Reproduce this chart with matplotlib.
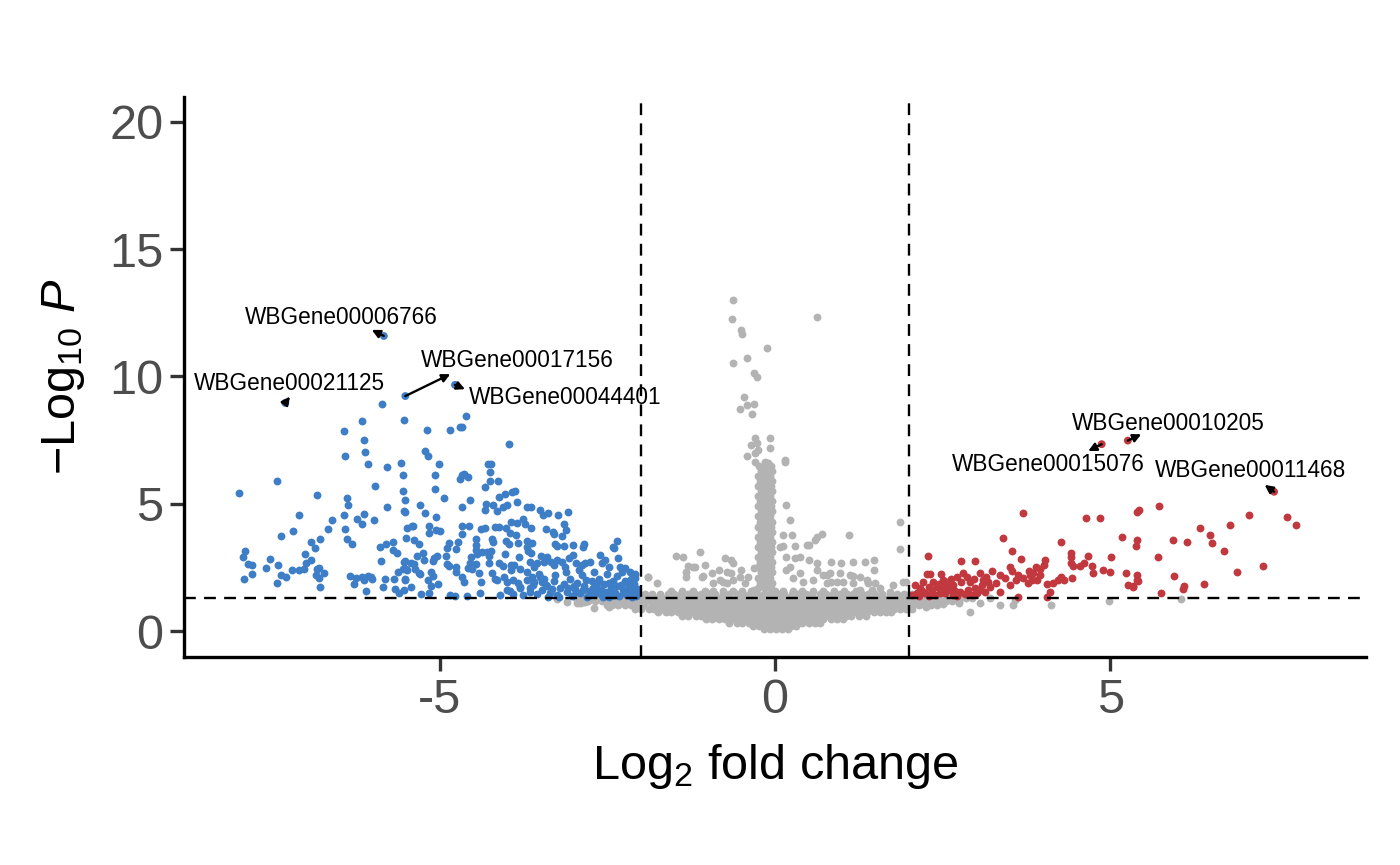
import matplotlib
matplotlib.use("Agg")
import matplotlib.pyplot as plt

plt.rcParams['font.family'] = ['Liberation Sans', 'DejaVu Sans']
plt.rcParams['mathtext.fontset'] = 'custom'
plt.rcParams['mathtext.rm'] = 'Liberation Sans'
plt.rcParams['mathtext.it'] = 'Liberation Sans:italic'

# ---------------- data (log2 fold change, -log10 P) ----------------
down_pts = [
    (-7.99,5.43),(-7.43,5.91),(-6.83,5.36),(-6.42,7.87),(-6.41,6.86),(-6.16,8.25),(-6.13,7.49),(-6.11,7.02),
    (-6.07,6.57),(-5.53,8.29),(-5.57,6.60),(-5.55,6.13),(-5.54,5.50),(-5.51,5.16),(-5.53,4.73),(-5.52,4.66),
    (-5.79,6.43),(-5.96,5.71),(-5.79,4.88),(-5.97,4.37),(-6.13,4.58),(-6.16,4.19),(-6.23,4.40),(-6.38,5.21),
    (-6.37,4.94),(-6.42,4.56),(-6.41,4.01),(-6.38,3.60),(-6.31,3.42),(-6.61,4.35),(-6.67,4.01),(-6.78,3.61),
    (-6.92,3.51),(-6.86,3.26),(-7.00,3.04),(-6.91,2.78),(-6.99,2.66),(-7.02,2.44),(-7.09,4.55),(-7.19,3.94),
    (-7.36,3.72),(-7.52,2.84),(-7.58,2.48),(-7.41,2.61),(-7.37,2.21),(-7.29,2.13),(-7.42,1.89),(-7.20,2.38),
    (-7.10,2.40),(-7.90,3.13),(-7.93,2.92),(-7.85,2.63),(-7.79,2.59),(-7.79,2.25),(-7.92,2.03),(-6.82,2.42),
    (-6.79,2.46),(-6.84,2.20),(-6.80,2.07),(-6.72,2.29),(-6.78,1.74),(-6.34,2.15),(-6.27,1.86),(-6.24,2.08),
    (-6.16,2.13),(-6.12,1.99),(-6.07,2.16),(-6.02,2.13),(-6.01,2.03),(-6.10,1.58),(-5.89,3.30),(-5.80,3.41),
    (-5.87,2.76),(-5.85,1.74),(-5.82,2.03),(-5.69,3.50),(-5.69,3.20),(-5.63,3.08),(-5.62,2.32),(-5.68,2.03),
    (-5.66,1.64),(-5.60,1.48),(-5.53,2.72),(-5.50,2.45),(-5.50,3.64),(-5.49,4.04),(-5.41,4.13),(-5.51,2.03),
    (-5.53,1.61),(-5.42,2.66),(-5.86,8.91),(-4.61,8.44),
    (-5.19,7.91),(-4.85,7.91),(-4.69,8.03),(-4.66,8.03),(-3.96,7.36),(-5.21,7.06),(-5.17,6.89),(-5.01,6.57),
    (-5.07,6.14),(-5.07,5.57),(-4.94,5.21),(-5.29,4.94),(-5.22,4.65),(-5.05,4.49),(-5.16,4.13),(-5.05,3.97),
    (-4.99,3.93),(-5.40,4.14),(-5.38,3.56),(-5.30,3.43),(-5.15,3.84),(-4.66,6.12),(-4.64,6.16),(-4.57,6.05),
    (-4.69,5.96),(-4.55,5.15),(-4.66,4.88),(-4.28,6.57),(-4.24,6.57),(-4.25,6.25),(-4.25,5.88),(-4.13,5.89),
    (-4.32,5.66),(-4.11,5.28),(-4.02,5.38),(-3.92,5.45),(-3.87,5.51),(-3.85,5.08),(-4.31,5.00),(-4.32,4.75),
    (-4.21,4.95),(-4.15,4.72),(-4.06,4.86),(-4.00,4.94),(-3.70,4.88),(-3.64,4.88),(-3.50,4.75),(-3.46,4.56),
    (-3.38,4.64),(-3.23,4.56),(-3.09,4.68),(-4.67,4.13),(-4.56,4.13),(-4.66,3.80),(-4.38,4.02),(-4.32,4.04),
    (-4.18,4.07),(-4.12,4.07),(-4.01,4.04),(-3.94,4.27),(-3.84,4.23),(-3.73,4.19),(-3.76,4.40),(-3.64,4.04),
    (-3.42,4.02),(-3.31,3.87),(-3.29,3.83),(-3.14,4.20),(-3.12,3.98),(-3.17,3.72),(-3.95,3.84),(-3.86,3.78),
    (-4.46,3.63),(-4.45,3.37),(-4.86,3.47),(-4.72,3.50),(-4.89,3.27),(-4.75,3.22),(-4.22,3.63),(-4.20,3.49),
    (-4.01,3.54),(-3.97,3.42),(-3.83,3.46),(-3.69,3.54),(-3.62,3.46),(-3.28,3.43),(-3.25,3.33),(-3.15,3.34),
    (-3.01,3.37),(-2.86,3.31),(-2.84,3.43),(-2.35,3.55),(-2.42,3.31),(-2.40,3.25),(-5.34,2.95),(-5.25,3.05),
    (-5.23,2.79),(-5.52,2.74),(-5.55,2.45),(-5.49,2.41),(-5.38,2.63),(-5.36,2.42),(-5.31,2.29),(-5.29,2.24),
    (-5.10,2.75),(-5.08,2.86),(-5.04,2.96),(-4.91,2.96),(-4.89,2.64),(-4.86,2.54),(-5.13,2.33),(-5.10,2.15),
    (-5.17,1.99),(-5.03,1.83),(-5.13,1.77),(-5.51,2.00),(-5.42,1.74),(-5.16,1.50),(-5.28,1.45),(-4.84,1.41),
    (-4.77,1.38),(-4.59,1.38),(-4.75,2.50),(-4.76,2.33),(-4.66,2.13),(-4.64,1.94),(-4.55,2.66),(-4.57,2.48),
    (-4.51,2.45),(-4.45,2.64),(-4.53,2.92),(-4.46,3.20),(-4.44,3.03),(-4.37,3.12),(-4.29,3.10),(-4.27,2.96),
    (-4.24,3.16),(-4.41,2.28),(-4.38,1.91),(-4.40,1.48),(-4.27,2.68),(-4.22,2.29),(-4.18,2.03),(-4.12,2.66),
    (-4.06,2.55),(-4.03,3.01),(-4.14,2.02),(-4.04,2.13),(-3.94,2.59),(-3.93,2.40),(-3.89,2.61),(-3.82,2.92),
    (-3.80,2.45),(-3.99,1.91),(-3.95,1.58),(-3.91,2.02),(-3.83,1.90),(-3.80,1.70),(-3.69,3.31),(-3.68,3.13),
    (-3.63,3.05),(-3.65,2.72),(-3.59,2.53),(-3.55,2.66),(-3.49,2.94),(-3.45,2.72),(-3.40,2.92),(-3.70,2.32),
    (-3.62,2.12),(-3.59,1.91),(-3.65,1.70),(-3.50,2.13),(-3.47,1.94),(-3.42,1.81),(-3.34,2.72),(-3.29,2.58),
    (-3.25,2.79),(-3.18,2.72),(-3.13,2.53),(-3.07,2.86),(-3.01,2.99),(-2.96,2.68),(-2.88,2.59),(-2.83,2.66),
    (-2.76,2.72),(-2.61,2.99),(-2.58,2.66),(-2.53,2.79),(-2.47,2.53),(-2.34,2.86),(-2.31,2.53),(-2.24,2.46),
    (-2.16,2.33),(-2.09,2.24),
    (-3.55,1.45),(-3.48,1.62),(-3.40,1.75),(-3.35,1.50),(-3.30,1.95),(-3.25,1.40),(-3.20,1.70),(-3.15,1.85),
    (-3.10,1.55),(-3.05,2.05),(-3.02,1.38),(-2.98,1.65),(-2.95,1.90),(-2.90,1.48),(-2.87,2.20),(-2.84,1.75),
    (-2.80,1.35),(-2.77,1.58),(-2.73,1.95),(-2.70,2.30),(-2.68,1.45),(-2.65,1.70),(-2.62,2.05),(-2.58,1.40),
    (-2.55,1.85),(-2.52,1.55),(-2.50,2.25),(-2.47,1.35),(-2.44,1.72),(-2.41,1.98),(-2.38,1.50),(-2.35,2.15),
    (-2.32,1.38),(-2.30,1.80),(-2.27,1.60),(-2.24,1.95),(-2.21,1.42),(-2.18,1.70),(-2.15,2.05),(-2.12,1.52),
    (-2.10,1.85),(-2.07,1.36),(-2.05,1.65),(-3.60,1.80),(-3.45,2.05),(-3.38,1.35),(-3.28,2.20),(-3.12,2.30),
    (-3.00,1.78),(-2.92,2.40),(-2.82,2.00),(-2.75,1.42),(-2.60,1.60),(-2.48,1.90),(-2.40,1.40),(-2.28,2.30),
    (-2.20,1.88),(-2.13,1.35),(-2.08,2.10),(-3.52,2.25),(-3.22,1.32),(-2.97,1.52),(-2.72,1.68),(-2.57,1.34),
    (-2.45,1.58),(-2.36,1.76),(-2.25,1.48),(-2.16,1.62),(-2.06,1.45),(-2.66,1.88),(-2.86,1.62),(-3.08,1.70),
    (-3.33,1.66),(-3.65,1.55),(-3.75,1.40),(-3.80,1.72),(-3.90,1.45),(-4.00,1.62),(-4.10,1.40),(-3.70,2.00),
]

up_pts = [
    (3.70,4.64),(4.64,4.43),(4.85,4.45),(5.39,4.68),(5.42,4.77),(5.73,4.90),(7.07,4.55),(7.64,4.48),
    (7.77,4.15),(6.33,4.06),(6.78,4.15),(6.49,3.77),(6.51,3.47),(6.69,3.14),(5.93,3.58),(6.14,3.49),
    (5.18,3.69),(5.40,3.58),(5.38,3.35),(5.71,2.92),(7.28,2.57),(6.88,2.33),(6.40,1.83),(6.10,1.77),
    (6.08,1.65),(5.95,2.15),(5.76,1.51),(5.23,2.27),(5.40,2.21),(5.40,1.99),(5.26,1.80),(5.34,1.78),
    (5.01,2.90),(4.99,2.33),(4.89,2.40),(4.72,2.57),(4.74,2.27),(4.67,2.95),(4.61,2.66),(4.55,2.57),
    (4.42,3.05),(4.41,2.90),(4.42,2.66),(4.45,2.57),(4.26,3.50),(4.43,2.07),(4.31,2.00),(4.27,2.13),
    (4.22,2.00),(4.15,1.90),(4.03,2.79),(4.01,2.59),(3.95,2.42),(3.89,2.53),(3.85,2.27),(3.83,2.00),
    (3.78,2.37),(3.80,2.20),(3.77,1.87),(3.90,2.00),(3.95,2.20),(4.05,1.85),(4.10,1.54),(4.06,1.35),
    (3.62,1.35),(3.54,3.16),(3.50,2.53),(3.67,2.82),(3.54,2.37),(3.63,2.20),(3.60,2.00),(3.70,2.07),
    (3.40,3.65),(3.35,2.20),(3.43,2.07),(3.30,1.87),(3.35,1.54),(3.50,1.81),(2.98,2.76),(2.77,2.74),
    (2.28,2.95),(2.48,2.25),(3.23,2.36),(3.06,2.27),(3.14,2.13),(3.18,1.94),(3.20,1.74),(3.08,1.81),
    (2.98,1.68),(2.91,1.94),(2.86,2.13),(2.81,2.27),(2.78,1.94),(2.71,2.13),(2.66,1.81),(2.61,1.61),
    (2.56,1.94),(2.51,1.74),(2.46,1.48),(2.41,1.74),(2.36,1.94),(2.34,1.61),(2.29,1.74),(2.24,1.48),
    (2.21,1.94),(2.16,1.68),(2.11,1.48),(2.09,1.81),(2.88,1.61),(3.01,1.48),(3.13,1.54),(2.76,1.54),
    (2.66,1.41),(2.53,1.51),(2.26,2.23),(2.31,2.24),(5.41,1.96),(5.34,1.74),(2.14,1.38),(2.19,1.57),
    (2.39,1.40),(2.44,1.85),(2.58,1.70),(2.68,1.58),(2.72,1.38),(2.83,1.45),(2.94,1.40),(3.05,1.62),
    (2.05,1.40),(2.30,1.36),(2.50,2.02),(2.62,2.05),(2.96,2.05),(3.10,2.00),
]

# non-significant genes: dense band, read row by row (-log10 P level -> fold changes)
ns_band_p = [0.06, 0.18, 0.32, 0.46, 0.60, 0.74, 0.88, 1.02, 1.16, 1.30, 1.44, 1.58]
ns_band_fc = [
    [-0.17,-0.08,0.01,0.11,0.19],
    [-0.33,-0.24,-0.13,-0.05,0.06,0.15,0.24,0.31],
    [-0.68,-0.57,-0.49,-0.38,-0.29,-0.18,-0.1,0.02,0.11,0.2,0.31,0.4,0.5,0.59,0.67],
    [-1.03,-0.94,-0.83,-0.75,-0.64,-0.55,-0.44,-0.36,-0.25,-0.14,-0.06,0.05,0.13,0.24,0.33,0.45,0.53,0.64,
     0.72,0.83,0.92,1.01],
    [-1.38,-1.29,-1.18,-1.1,-0.99,-0.9,-0.79,-0.71,-0.6,-0.5,-0.41,-0.3,-0.21,-0.11,-0.02,0.09,0.17,0.28,
     0.37,0.47,0.56,0.67,0.75,0.86,0.95,1.06,1.14,1.25,1.35],
    [-1.74,-1.63,-1.55,-1.44,-1.35,-1.24,-1.16,-1.05,-0.96,-0.85,-0.77,-0.66,-0.57,-0.46,-0.38,-0.27,-0.18,
     -0.07,0.02,0.12,0.21,0.31,0.4,0.51,0.59,0.7,0.79,0.89,0.98,1.09,1.17,1.28,1.37,1.47,1.56,1.66,1.73],
    [-2.08,-1.99,-1.88,-1.8,-1.69,-1.6,-1.49,-1.41,-1.3,-1.21,-1.1,-1.02,-0.91,-0.82,-0.72,-0.63,-0.52,
     -0.44,-0.33,-0.24,-0.14,-0.05,0.06,0.15,0.25,0.34,0.44,0.53,0.63,0.72,0.82,0.91,1.01,1.1,1.2,1.29,
     1.39,1.48,1.58,1.67,1.77,1.86,1.96,2.05],
    [-2.43,-2.34,-2.23,-2.15,-2.04,-1.95,-1.84,-1.76,-1.65,-1.56,-1.46,-1.37,-1.27,-1.18,-1.08,-0.99,-0.89,
     -0.8,-0.7,-0.61,-0.51,-0.42,-0.32,-0.23,-0.13,-0.04,0.05,0.15,0.24,0.34,0.43,0.53,0.62,0.72,0.81,0.91,
     1.0,1.1,1.19,1.29,1.38,1.48,1.57,1.67,1.76,1.86,1.95,2.05,2.14,2.24,2.33,2.41],
    [-2.78,-2.69,-2.58,-2.5,-2.39,-2.3,-2.2,-2.11,-2.01,-1.92,-1.82,-1.73,-1.63,-1.54,-1.44,-1.35,-1.25,
     -1.16,-1.06,-0.97,-0.87,-0.78,-0.68,-0.59,-0.49,-0.4,-0.3,-0.21,-0.11,-0.02,0.08,0.17,0.27,0.36,0.46,
     0.55,0.65,0.74,0.84,0.93,1.03,1.12,1.22,1.31,1.41,1.5,1.6,1.69,1.79,1.88,1.98,2.07,2.17,2.26,2.36,
     2.45,2.55,2.64,2.74],
    [-2.97,-2.86,-2.77,-2.66,-2.57,-2.47,-2.38,-2.28,-2.19,-2.09,-2.0,-1.9,-1.81,-1.71,-1.62,-1.52,-1.43,
     -1.33,-1.24,-1.14,-1.05,-0.95,-0.86,-0.76,-0.67,-0.57,-0.48,-0.38,-0.29,-0.19,-0.1,0.0,0.09,0.19,0.28,
     0.38,0.47,0.57,0.66,0.76,0.85,0.95,1.04,1.14,1.23,1.33,1.42,1.52,1.61,1.71,1.8,1.9,1.99,2.09,2.18,
     2.28,2.37,2.47,2.56,2.66,2.75,2.85,2.93],
    [-2.15,-2.03,-1.94,-1.83,-1.72,-1.6,-1.51,-1.4,-1.3,-1.19,-1.1,-0.98,-0.89,-0.78,-0.68,-0.57,-0.48,
     -0.37,-0.27,-0.16,-0.07,0.05,0.14,0.25,0.35,0.46,0.55,0.67,0.76,0.87,0.97,1.08,1.17,1.29,1.38,1.49,
     1.6,1.71,1.82,1.93,2.04],
    [-1.55,-1.38,-1.22,-1.05,-0.93,-0.78,-0.62,-0.49,-0.35,0.0,0.12,0.27,0.41,0.56,0.72,0.88,1.03,1.21],
]

ns_spike = [
    (-0.25,1.7),(-0.15,1.7),(-0.06,1.7),(-0.22,1.9),(-0.13,1.9),(-0.05,1.9),(-0.26,2.1),(-0.16,2.1),
    (-0.07,2.1),(-0.21,2.3),(-0.12,2.3),(-0.04,2.3),(-0.25,2.5),(-0.15,2.5),(-0.06,2.5),(-0.22,2.7),
    (-0.12,2.7),(-0.05,2.7),(-0.26,2.9),(-0.17,2.9),(-0.08,2.9),(-0.21,3.1),(-0.12,3.1),(-0.04,3.1),
    (-0.25,3.3),(-0.15,3.3),(-0.06,3.3),(-0.22,3.5),(-0.13,3.5),(-0.05,3.5),(-0.26,3.7),(-0.16,3.7),
    (-0.07,3.7),(-0.21,3.9),(-0.12,3.9),(-0.04,3.9),(-0.25,4.1),(-0.15,4.1),(-0.06,4.1),(-0.22,4.3),
    (-0.13,4.3),(-0.05,4.3),(-0.26,4.5),(-0.16,4.5),(-0.07,4.5),(-0.21,4.7),(-0.12,4.7),(-0.05,4.7),
    (-0.25,4.9),(-0.15,4.9),(-0.06,4.9),(-0.22,5.1),(-0.13,5.1),(-0.05,5.1),(-0.26,5.3),(-0.16,5.3),
    (-0.07,5.3),(-0.21,5.5),(-0.12,5.5),(-0.05,5.5),(-0.25,5.7),(-0.15,5.7),(-0.06,5.7),(-0.22,5.9),
    (-0.13,5.9),(-0.05,5.9),(-0.26,6.1),(-0.17,6.1),(-0.08,6.1),(-0.21,6.3),(-0.12,6.3),(-0.05,6.3),
    (-0.24,6.5),(-0.14,6.5),(-0.06,6.5),
    (-0.63,13.01),(-0.64,12.25),(-0.51,11.83),(-0.49,11.67),(0.62,12.35),(-0.12,11.11),(-0.42,10.72),
    (-0.62,10.52),(-0.32,10.15),(-0.27,9.99),(-0.46,9.21),(-0.42,8.88),(-0.32,8.91),(-0.52,8.71),
    (-0.34,8.51),(-0.30,7.60),(-0.08,7.57),(-0.35,7.31),(-0.27,7.38),(-0.25,7.11),(-0.30,6.98),
    (-0.07,7.18),(-0.41,6.88),(0.15,6.72),(0.15,6.65),(-0.30,6.65),(-0.15,6.65),(-0.10,6.59),
]

ns_scatter = [
    (-2.95,1.09),(-2.86,1.15),(-2.48,0.95),(-2.91,1.09),(-2.83,1.15),(-2.51,1.02),(-2.36,1.22),(-2.11,1.35),
    (-1.90,2.13),(-3.10,1.15),(-3.25,1.25),(-2.70,0.90),
    (-1.89,2.13),(-1.76,1.90),(-1.47,2.95),(-1.37,2.90),(-1.12,3.12),(-1.33,2.30),(-1.29,2.55),(-1.19,2.50),
    (-1.04,2.59),(-1.09,2.13),(-0.94,2.27),(-0.84,2.40),(-0.75,2.86),(-0.62,2.66),(-0.65,2.27),(-0.50,2.40),
    (-0.40,2.11),(-0.32,2.46),(-0.77,1.94),(-0.92,1.87),(-1.32,2.13),(-1.22,2.53),(-1.07,2.16),(-0.82,2.00),
    (-0.72,2.33),(-0.65,2.79),(-0.72,1.87),(-0.62,2.00),(-0.52,2.13),(-0.45,1.87),(-0.32,1.61),
    (0.16,4.95),(0.23,4.36),(0.12,3.77),(0.26,3.77),(0.70,3.81),(0.62,3.71),(0.60,3.58),(1.10,3.76),
    (0.48,3.38),(0.30,3.34),(0.12,3.34),(0.17,2.92),(0.30,2.86),(0.22,2.53),(0.37,2.92),(0.50,2.79),
    (0.50,3.38),(1.86,4.30),(1.87,3.21),(0.84,2.72),(0.99,2.66),(1.17,2.72),(1.34,2.70),(1.47,2.79),
    (1.17,2.16),(0.97,2.27),(0.77,2.20),(0.62,2.40),(0.57,2.00),(0.42,1.94),(0.27,2.07),(0.84,1.94),
    (1.02,1.94),(1.27,2.13),(1.39,1.87),(1.44,1.61),(1.76,1.81),(1.96,1.94),(1.56,1.68),(1.71,1.54),
    (0.07,3.31),(0.62,2.66),(0.17,2.40),(0.37,2.27),(0.72,2.20),(0.82,2.27),(0.77,1.87),(0.92,1.94),
    (1.12,2.20),(1.17,1.87),(1.27,1.61),(1.37,2.00),(1.47,2.40),(1.49,1.87),(1.91,1.94),
    (2.01,1.22),(2.16,1.09),(2.36,1.22),(2.61,1.28),(2.91,0.76),(3.06,1.09),(3.20,1.28),(3.35,1.02),
    (3.58,1.22),(3.55,1.02),(4.12,1.02),(4.98,1.19),(6.05,1.26),(2.25,0.95),(2.50,1.05),(2.75,1.10),
]

# labelled genes
label_genes = ['WBGene00006766', 'WBGene00021125', 'WBGene00017156', 'WBGene00044401',
               'WBGene00010205', 'WBGene00015076', 'WBGene00011468']
label_fc = [-5.83, -7.30, -5.51, -4.77, 5.26, 4.87, 7.44]
label_p = [11.59, 8.96, 9.23, 9.67, 7.48, 7.34, 5.47]

fc_cutoff = 2.0
p_cutoff = 1.30103  # -log10(0.05)

# ---------------- layout / style ----------------
label_text_pos = [(-6.47, 12.30), (-7.23, 9.74), (-3.84, 10.61), (-3.13, 9.19),
                  (5.86, 8.17), (4.07, 6.56), (7.09, 6.29)]
label_arrow_head = [(-6.01, 11.83), (-7.23, 9.21), (-4.84, 10.09), (-4.62, 9.50),
                    (5.46, 7.73), (4.67, 7.07), (7.30, 5.74)]

col_ns = '#B3B3B3'
col_down = '#3D7EC7'
col_up = '#C2383F'
msize = 32

fig = plt.figure(figsize=(14, 8.65), dpi=100)
ax = fig.add_axes([0.1314, 0.2405, 0.8443, 0.6474])

ns_x = [x for row in ns_band_fc for x in row]
ns_y = [p for p, row in zip(ns_band_p, ns_band_fc) for _ in row]
ns_x += [pt[0] for pt in ns_spike] + [pt[0] for pt in ns_scatter]
ns_y += [pt[1] for pt in ns_spike] + [pt[1] for pt in ns_scatter]

ax.scatter(ns_x, ns_y, s=msize, c=col_ns, linewidths=0, zorder=2)
ax.scatter([p[0] for p in down_pts], [p[1] for p in down_pts], s=msize, c=col_down,
           linewidths=0, zorder=3)
ax.scatter([p[0] for p in up_pts], [p[1] for p in up_pts], s=msize, c=col_up,
           linewidths=0, zorder=3)
ax.scatter(label_fc, label_p, s=msize, linewidths=0, zorder=3,
           c=[col_down if v < 0 else col_up for v in label_fc])

dash = (0, (5.0, 3.5))
for xv in (-fc_cutoff, fc_cutoff):
    ax.axvline(xv, color='black', lw=1.7, linestyle=dash, zorder=4)
ax.axhline(p_cutoff, color='black', lw=1.7, linestyle=dash, zorder=4)

for name, fx, py, tpos, head in zip(label_genes, label_fc, label_p, label_text_pos, label_arrow_head):
    ax.annotate('', xy=head, xytext=(fx, py),
                arrowprops=dict(arrowstyle='-|>', color='black', lw=1.7,
                                mutation_scale=12, shrinkA=0, shrinkB=0), zorder=5)
    ax.text(tpos[0], tpos[1], name, ha='center', va='center', fontsize=16.3,
            color='black', zorder=6)

ax.set_xlim(-8.81, 8.81)
ax.set_ylim(-1.02, 20.98)
ax.set_xticks([-5, 0, 5])
ax.set_xticklabels(['-5', '0', '5'])
ax.set_yticks([0, 5, 10, 15, 20])

for side in ('top', 'right'):
    ax.spines[side].set_visible(False)
for side in ('left', 'bottom'):
    ax.spines[side].set_linewidth(2.4)
    ax.spines[side].set_color('black')

ax.tick_params(axis='both', length=10, width=2.4, color='#333333',
               labelsize=35, labelcolor='#4D4D4D', pad=5)

ax.set_xlabel(r'$\mathrm{Log}_{2}$ fold change', fontsize=35, color='black', labelpad=14)
ax.set_ylabel(r'$-\mathrm{Log}_{10}\ \mathit{P}$', fontsize=35, color='black', labelpad=16)

fig.savefig('out.png', dpi=100, facecolor='white')
